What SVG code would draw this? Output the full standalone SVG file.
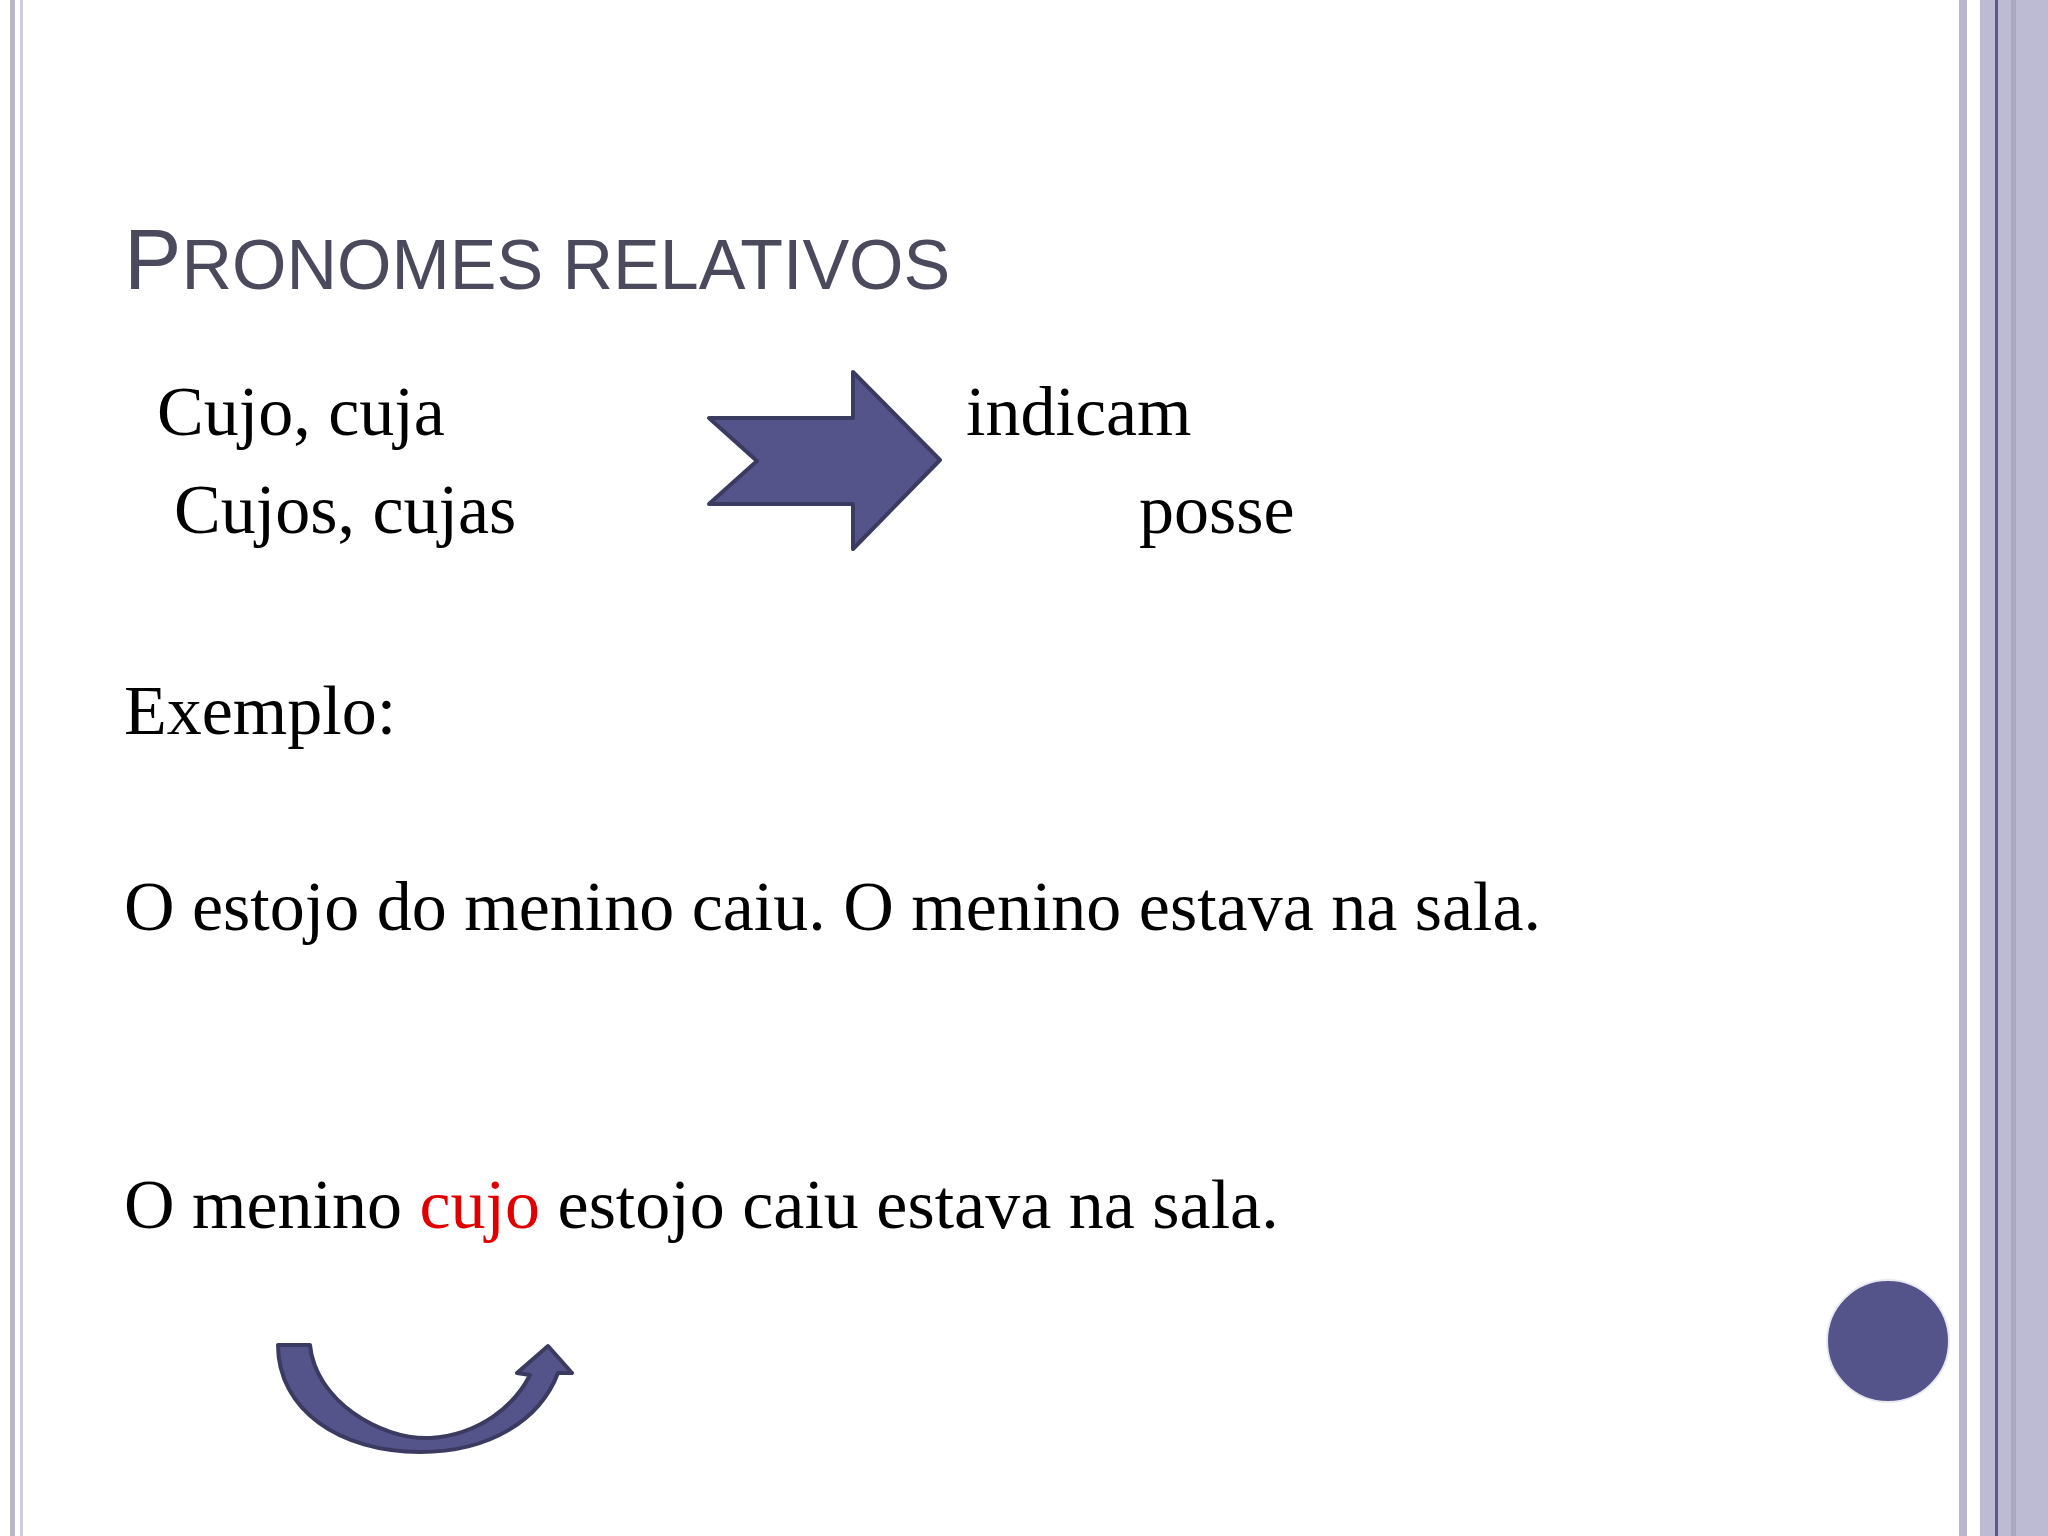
<svg xmlns="http://www.w3.org/2000/svg" width="2048" height="1536" viewBox="0 0 2048 1536">
<style>
.t{font-family:"Liberation Serif","Times New Roman",serif;font-size:70px;fill:#000}
.h{font-family:"Liberation Sans",Arial,sans-serif;fill:#4a4a5c}
.shape{fill:#55548a;stroke:#3b3a60;stroke-width:4;stroke-linejoin:round}
</style>
<rect width="2048" height="1536" fill="#fff"/>
<g id="borders">
<rect x="10" y="0" width="5" height="1536" fill="#b8b6c8"/>
<rect x="20" y="0" width="3" height="1536" fill="#d0cfdc"/>
<rect x="1959" y="0" width="8" height="1536" fill="#b8b6c8"/>
<rect x="1980" y="0" width="68" height="1536" fill="#bdbbd3"/>
<rect x="1995" y="0" width="3" height="1536" fill="#5a5890"/>
<rect x="2011" y="0" width="5" height="1536" fill="#aaa8c0"/>
</g>
<g id="title"><text class="h" x="124" y="289" font-size="86">P<tspan font-size="70">RONOMES RELATIVOS</tspan></text></g>
<g id="left"><text class="t" x="157" y="435">Cujo, cuja</text><text class="t" x="174" y="533">Cujos, cujas</text></g>
<g id="right"><text class="t" x="966" y="435">indicam</text><text class="t" x="1139" y="533">posse</text></g>
<g id="block-arrow"><polygon class="shape" points="709,418 853,418 853,372 940,460 853,549 853,504 709,504 757,461"/></g>
<g id="examples">
<text class="t" x="124" y="734">Exemplo:</text>
<text class="t" x="124" y="930">O estojo do menino caiu. O menino estava na sala.</text>
<text class="t" x="124" y="1228">O menino <tspan fill="#e00000">cujo</tspan> estojo caiu estava na sala.</text>
</g>
<g id="curved-arrow"><path class="shape" d="M278,1345 L310,1345 C315,1400 380,1440 430,1438 C480,1435 515,1405 530,1375 L517,1373 L548,1346 L572,1373 L558,1373 C540,1420 490,1452 420,1452 C340,1452 278,1410 278,1345 Z"/></g>
<g id="dot"><circle cx="1888" cy="1341" r="61" fill="#55548a" stroke="#e8e8f0" stroke-width="2"/></g>
</svg>
